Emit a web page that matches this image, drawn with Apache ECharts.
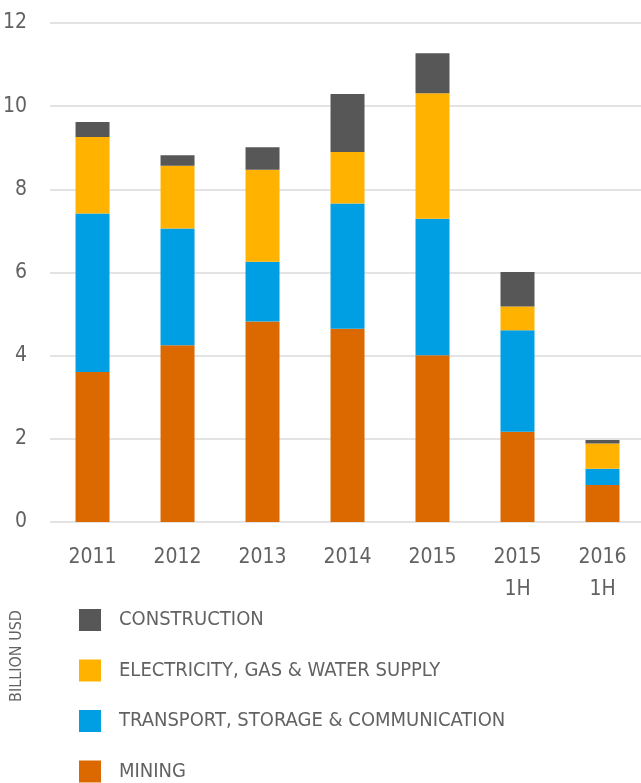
<!DOCTYPE html>
<html style="height: 100%">
<head>
	<meta charset="UTF-8">
	<title>Investment by sector</title>
	<script src="https://cdn.jsdelivr.net/npm/echarts@6/dist/echarts.min.js" type="text/javascript"></script>
</head>
<body style="height:100%; margin: 0; overflow: hidden; background-color:#ffffff">
<!-- a few px wider than the window: the plot runs past the right edge, like the original -->
<div id="one" style="height: 783px; width: 645px;"></div>
<script type="text/javascript">
	// data (billion USD)
	var years = ['2011', '2012', '2013', '2014', '2015', '2015\n1H', '2016\n1H'];
	var mining = [3.61, 4.25, 4.82, 4.65, 4.01, 2.17, 0.89];
	var transport = [3.81, 2.81, 1.44, 3.01, 3.28, 2.44, 0.39];
	var electricity = [1.84, 1.51, 2.21, 1.24, 3.02, 0.57, 0.61];
	var construction = [0.36, 0.25, 0.54, 1.39, 0.96, 0.83, 0.08];
	var yTicks = [0, 2, 4, 6, 8, 10, 12];

	var font = '"Liberation Sans Narrow", "DejaVu Sans Condensed", sans-serif';
	var textGrey = '#626262';

	var myChart = echarts.init(document.getElementById('one'));

	function bar(name, data, color) {
		return {
			name: name,
			type: 'bar',
			stack: 'total',
			barWidth: 34,
			data: data,
			itemStyle: {color: color},
			emphasis: {disabled: true}
		};
	}

	var option = {
		animation: false,
		grid: {left: 47.7, top: 23, right: 0, height: 499},
		legend: {
			orient: 'vertical',
			left: 79,
			top: 609,
			padding: 0,
			itemWidth: 22,
			itemHeight: 22,
			itemGap: 28.5,
			icon: 'rect',
			textStyle: {fontFamily: font, fontSize: 20, color: textGrey, padding: [0, 0, 0, 13]},
			data: ['CONSTRUCTION', 'ELECTRICITY, GAS & WATER SUPPLY', 'TRANSPORT, STORAGE & COMMUNICATION', 'MINING']
		},
		xAxis: {
			type: 'category',
			data: years,
			axisLine: {show: false},
			axisTick: {show: false},
			axisLabel: {fontFamily: font, fontSize: 21, color: textGrey, margin: 20, lineHeight: 32}
		},
		yAxis: {
			type: 'value',
			min: yTicks[0],
			max: yTicks[yTicks.length - 1],
			interval: 2,
			axisLine: {show: false},
			axisTick: {show: false},
			axisLabel: {fontFamily: font, fontSize: 21, color: textGrey, margin: 23},
			splitLine: {lineStyle: {color: '#e3e3e3', width: 2}}
		},
		graphic: [{
			type: 'text',
			x: 17,
			y: 656,
			rotation: Math.PI / 2,
			style: {
				text: 'BILLION USD',
				fontFamily: font,
				fontSize: 16,
				fill: textGrey,
				align: 'center',
				verticalAlign: 'middle'
			}
		}],
		series: [
			bar('MINING', mining, '#dc6900'),
			bar('TRANSPORT, STORAGE & COMMUNICATION', transport, '#009fe3'),
			bar('ELECTRICITY, GAS & WATER SUPPLY', electricity, '#ffb300'),
			bar('CONSTRUCTION', construction, '#575757')
		]
	};
	myChart.setOption(option);
</script>
</body>
</html>
